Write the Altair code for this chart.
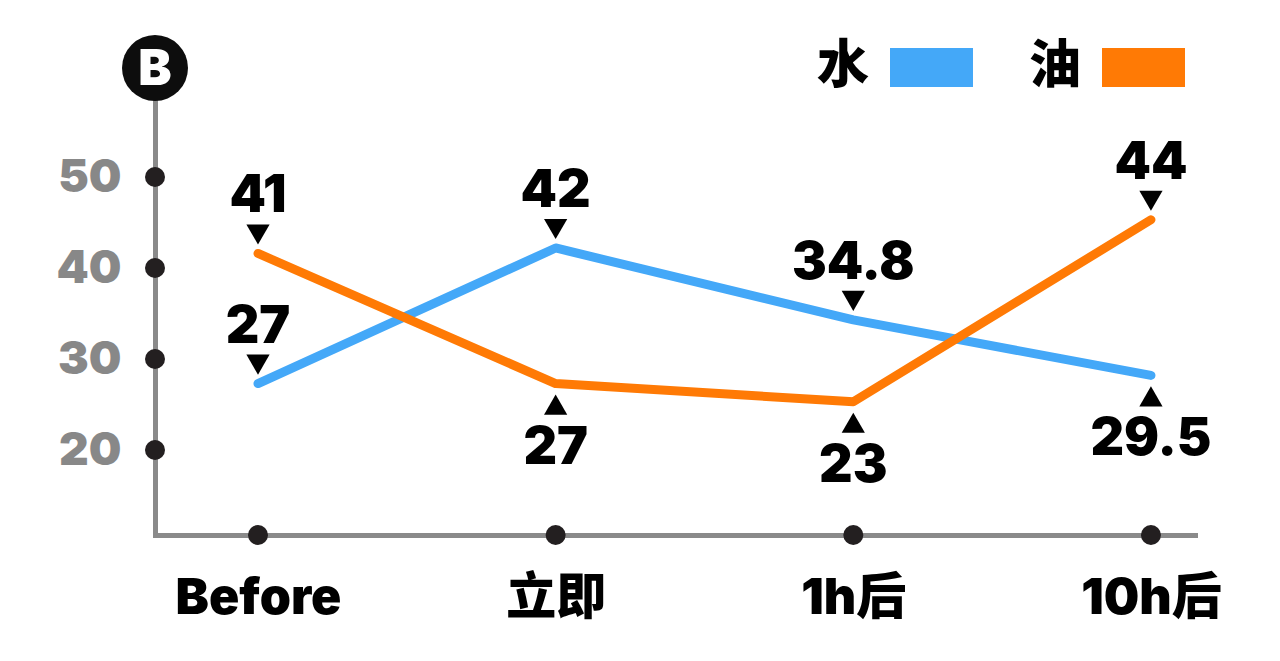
import json
import altair as alt
import pandas as pd

# ---------------- data ----------------
categories = ["Before", "立即", "1h后", "10h后"]
series_names = ["水", "油"]
water_values = [27.3, 42.2, 34.3, 28.2]
oil_values = [41.6, 27.3, 25.3, 45.3]
water_labels = ["27", "42", "34.8", "29.5"]
oil_labels = ["41", "27", "23", "44"]
y_ticks = [20, 30, 40, 50]

# ---------------- style ----------------
BLUE = "#44A8F8"
ORANGE = "#FF7A05"
AXIS_GREY = "#8a8a8a"
DOT = "#231f20"
FONT = "Inter, 'Noto Sans CJK SC', sans-serif"
X_DOMAIN = [-0.346, 3.148]
Y_DOMAIN = [10.66, 61.76]
W, H = 1040, 465
# which labels sit below their point
BELOW = {("水", "10h后"), ("油", "立即"), ("油", "1h后")}

rows = []
for s, vals, labs in [("水", water_values, water_labels), ("油", oil_values, oil_labels)]:
    for i, (c, v, l) in enumerate(zip(categories, vals, labs)):
        rows.append({"idx": i, "cat": c, "series": s, "value": v, "label": l,
                     "side": "below" if (s, c) in BELOW else "above"})
df = pd.DataFrame(rows)

xdots = pd.DataFrame({"idx": list(range(len(categories))), "v": [Y_DOMAIN[0]] * len(categories)})
ydots = pd.DataFrame({"idx": [X_DOMAIN[0]] * len(y_ticks), "v": y_ticks})

label_expr = json.dumps(categories, ensure_ascii=False) + "[datum.value]"

xscale = alt.Scale(domain=X_DOMAIN, nice=False, zero=False)
yscale = alt.Scale(domain=Y_DOMAIN, nice=False, zero=False)

x_axis = alt.Axis(values=list(range(len(categories))), labelExpr=label_expr, title=None,
                  grid=False, ticks=False, domainColor=AXIS_GREY, domainWidth=5,
                  domainCap="square", labelFont=FONT, labelFontSize=50, labelFontWeight=900,
                  labelColor="#000", labelPadding=78, labelBaseline="alphabetic",
                  labelFlush=False, labelOverlap=False)
y_axis = alt.Axis(values=y_ticks, title=None, grid=False, ticks=False,
                  domainColor=AXIS_GREY, domainWidth=5, domainCap="square",
                  labelFont=FONT, labelFontSize=46, labelFontWeight=900,
                  labelColor="#888888", labelPadding=34, labelBaseline="middle")

color = alt.Color("series:N", scale=alt.Scale(domain=series_names, range=[BLUE, ORANGE]),
                  legend=None)

base = alt.Chart(df)

lines = base.mark_line(strokeWidth=9, strokeCap="round", strokeJoin="round").encode(
    x=alt.X("idx:Q", scale=xscale, axis=x_axis),
    y=alt.Y("value:Q", scale=yscale, axis=y_axis),
    color=color,
    detail="series:N",
)

x_dot_layer = alt.Chart(xdots).mark_point(shape="circle", filled=True, size=400,
                                          color=DOT, opacity=1).encode(
    x=alt.X("idx:Q", scale=xscale), y=alt.Y("v:Q", scale=yscale))
y_dot_layer = alt.Chart(ydots).mark_point(shape="circle", filled=True, size=400,
                                          color=DOT, opacity=1).encode(
    x=alt.X("idx:Q", scale=xscale), y=alt.Y("v:Q", scale=yscale))

enc = dict(x=alt.X("idx:Q", scale=xscale), y=alt.Y("value:Q", scale=yscale))

tri_down = base.transform_filter(alt.datum.side == "above").mark_point(
    shape="triangle-down", filled=True, size=540, color="#000", opacity=1, yOffset=-19
).encode(**enc)
txt_above = base.transform_filter(alt.datum.side == "above").mark_text(
    font=FONT, fontSize=52, fontWeight=900, color="#000", baseline="alphabetic",
    align="center", dy=-41
).encode(text="label:N", **enc)

tri_up = base.transform_filter(alt.datum.side == "below").mark_point(
    shape="triangle-up", filled=True, size=540, color="#000", opacity=1, yOffset=21
).encode(**enc)
txt_below = base.transform_filter(alt.datum.side == "below").mark_text(
    font=FONT, fontSize=52, fontWeight=900, color="#000", baseline="alphabetic",
    align="center", dy=80
).encode(text="label:N", **enc)

one = alt.Data(values=[{}])

badge = alt.Chart(one).mark_point(shape="circle", filled=True, size=4356,
                                  color="#0d0d0d", opacity=1).encode(
    x=alt.value(0), y=alt.value(-2))
badge_txt = alt.Chart(one).mark_text(font=FONT, fontSize=50, fontWeight=900,
                                     color="#ffffff", baseline="middle", align="center",
                                     dy=2).encode(
    x=alt.value(0), y=alt.value(-2), text=alt.value("B"))

leg_w_txt = alt.Chart(one).mark_text(font=FONT, fontSize=52, fontWeight=900, color="#000",
                                     baseline="middle", align="center").encode(
    x=alt.value(688), y=alt.value(-3), text=alt.value(series_names[0]))
leg_w_box = alt.Chart(one).mark_rect(color=BLUE).encode(
    x=alt.value(735), x2=alt.value(818), y=alt.value(-22), y2=alt.value(17))
leg_o_txt = alt.Chart(one).mark_text(font=FONT, fontSize=52, fontWeight=900, color="#000",
                                     baseline="middle", align="center").encode(
    x=alt.value(900), y=alt.value(-3), text=alt.value(series_names[1]))
leg_o_box = alt.Chart(one).mark_rect(color=ORANGE).encode(
    x=alt.value(947), x2=alt.value(1030), y=alt.value(-22), y2=alt.value(17))

chart = alt.layer(
    lines, x_dot_layer, y_dot_layer, tri_down, txt_above, tri_up, txt_below,
    badge, badge_txt, leg_w_txt, leg_w_box, leg_o_txt, leg_o_box,
).properties(
    width=W, height=H,
    autosize=alt.AutoSizeParams(type="none"),
    padding={"left": 147, "top": 62, "right": 77, "bottom": 118},
    background="#ffffff",
).configure_view(stroke=None)

chart.save("out.html", embed_options={"renderer": "svg", "actions": False})
